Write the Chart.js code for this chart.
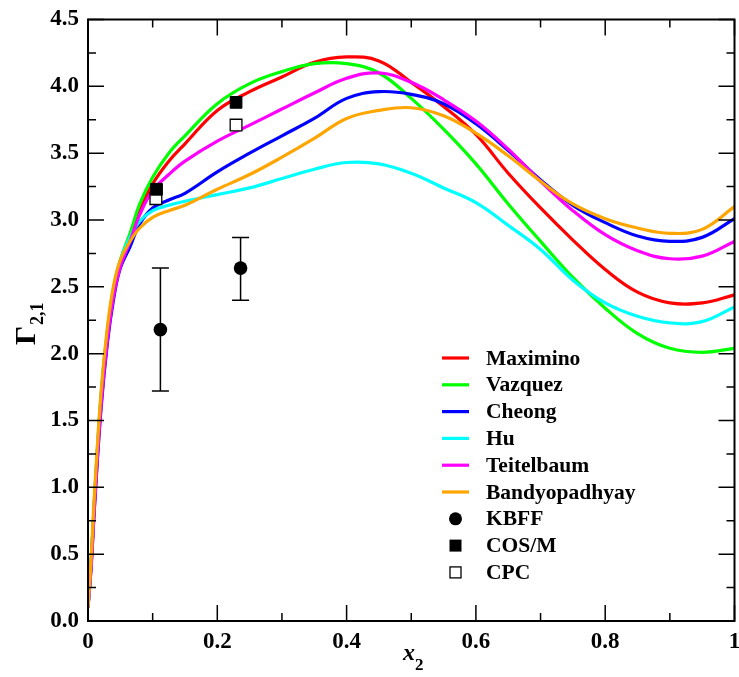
<!DOCTYPE html>
<html>
<head>
<meta charset="utf-8">
<script src="https://cdn.jsdelivr.net/npm/chart.js@4/dist/chart.umd.min.js"></script>
<style>
  html, body { margin: 0; background: #fff; }
</style>
</head>
<body>
<canvas id="chart" width="739" height="677"></canvas>
<script>
// x2 grid the curves were read at
const xValues = [0, 0.005, 0.01, 0.02, 0.03, 0.04, 0.05, 0.065, 0.08, 0.1, 0.125, 0.15, 0.2, 0.25, 0.3,
  0.35, 0.4, 0.45, 0.5, 0.55, 0.6, 0.65, 0.7, 0.75, 0.8, 0.85, 0.9, 0.95, 1.0];

const maximino = [0.1, 0.45, 0.9, 1.65, 2.15, 2.48, 2.68, 2.88, 3.07, 3.27, 3.44, 3.57, 3.82, 3.96, 4.07,
  4.18, 4.22, 4.19, 4.03, 3.85, 3.64, 3.35, 3.09, 2.85, 2.63, 2.46, 2.38, 2.38, 2.44];
const vazquez = [0.1, 0.45, 0.9, 1.67, 2.17, 2.5, 2.7, 2.9, 3.12, 3.32, 3.5, 3.63, 3.87, 4.02, 4.11,
  4.17, 4.17, 4.1, 3.91, 3.68, 3.42, 3.12, 2.84, 2.57, 2.34, 2.15, 2.04, 2.01, 2.04];
const cheong = [0.1, 0.42, 0.85, 1.58, 2.08, 2.42, 2.64, 2.8, 2.97, 3.09, 3.15, 3.2, 3.36, 3.5, 3.63,
  3.76, 3.91, 3.96, 3.94, 3.87, 3.72, 3.52, 3.3, 3.11, 2.98, 2.88, 2.84, 2.87, 3.01];
const hu = [0.1, 0.47, 0.92, 1.68, 2.17, 2.5, 2.7, 2.87, 2.99, 3.07, 3.11, 3.14, 3.19, 3.24, 3.31,
  3.38, 3.43, 3.42, 3.35, 3.24, 3.13, 2.96, 2.78, 2.55, 2.38, 2.28, 2.23, 2.24, 2.35];
const teitelbaum = [0.1, 0.42, 0.86, 1.6, 2.1, 2.44, 2.65, 2.84, 3.04, 3.22, 3.34, 3.44, 3.59, 3.71, 3.83,
  3.95, 4.06, 4.1, 4.03, 3.9, 3.74, 3.53, 3.29, 3.07, 2.89, 2.77, 2.71, 2.73, 2.84];
const bandyopadhyay = [0.1, 0.48, 0.95, 1.7, 2.2, 2.52, 2.7, 2.84, 2.94, 3.02, 3.07, 3.11, 3.23, 3.34, 3.47,
  3.61, 3.76, 3.82, 3.84, 3.78, 3.65, 3.48, 3.29, 3.12, 3.01, 2.94, 2.9, 2.93, 3.1];

// simulation points
const kbffX = [0.112, 0.236];
const kbffY = [2.18, 2.64];
const kbffLow = [1.72, 2.4];
const kbffHigh = [2.64, 2.87];
const cosmX = [0.106, 0.229];
const cosmY = [3.23, 3.88];
const cpcX = [0.105, 0.229];
const cpcY = [3.16, 3.71];

const xTickValues = [0, 0.2, 0.4, 0.6, 0.8, 1];
const xTickLabels = ["0", "0.2", "0.4", "0.6", "0.8", "1"];
const yTickValues = [0, 0.5, 1, 1.5, 2, 2.5, 3, 3.5, 4, 4.5];
const yTickLabels = ["0.0", "0.5", "1.0", "1.5", "2.0", "2.5", "3.0", "3.5", "4.0", "4.5"];

const curveNames = ["Maximino", "Vazquez", "Cheong", "Hu", "Teitelbaum", "Bandyopadhyay"];
const curveColors = ["#ff0000", "#00ff00", "#0000ff", "#00ffff", "#ff00ff", "#ffa500"];
const curves = [maximino, vazquez, cheong, hu, teitelbaum, bandyopadhyay];

const FONT = "'Liberation Serif', 'DejaVu Serif', serif";

const toPoints = (xs, ys) => xs.map((x, i) => ({ x: x, y: ys[i] }));

const datasets = curves.map((ys, i) => ({
  label: curveNames[i],
  data: toPoints(xValues, ys),
  showLine: true,
  borderColor: curveColors[i],
  backgroundColor: curveColors[i],
  borderWidth: 3.2,
  pointRadius: 0,
  tension: 0.4,
  order: 20 - i
}));

datasets.push({
  label: "KBFF",
  data: toPoints(kbffX, kbffY),
  pointStyle: "circle",
  pointRadius: 6.8,
  backgroundColor: "#000",
  borderColor: "#000",
  borderWidth: 0,
  order: 3
});
datasets.push({
  label: "COS/M",
  data: toPoints(cosmX, cosmY),
  pointStyle: "rect",
  pointRadius: 8.3,
  backgroundColor: "#000",
  borderColor: "#000",
  borderWidth: 1,
  order: 1
});
datasets.push({
  label: "CPC",
  data: toPoints(cpcX, cpcY),
  pointStyle: "rect",
  pointRadius: 8.3,
  backgroundColor: "#fff",
  borderColor: "#000",
  borderWidth: 1.3,
  order: 2
});

// error bars, frame, inner ticks, axis titles, legend
const decorations = {
  id: "decorations",
  beforeDatasetsDraw(chart) {
    const ctx = chart.ctx;
    const xs = chart.scales.x, ys = chart.scales.y;
    ctx.save();
    ctx.strokeStyle = "#000";
    ctx.lineWidth = 1.5;
    kbffX.forEach((xv, i) => {
      const px = xs.getPixelForValue(xv);
      const top = ys.getPixelForValue(kbffHigh[i]);
      const bot = ys.getPixelForValue(kbffLow[i]);
      ctx.beginPath();
      ctx.moveTo(px, top); ctx.lineTo(px, bot);
      ctx.moveTo(px - 8.5, top); ctx.lineTo(px + 8.5, top);
      ctx.moveTo(px - 8.5, bot); ctx.lineTo(px + 8.5, bot);
      ctx.stroke();
    });
    ctx.restore();
  },
  afterDraw(chart) {
    const ctx = chart.ctx;
    const a = chart.chartArea;
    const xs = chart.scales.x, ys = chart.scales.y;
    ctx.save();
    ctx.strokeStyle = "#000";
    ctx.lineWidth = 2;
    ctx.strokeRect(a.left, a.top, a.right - a.left, a.bottom - a.top);

    ctx.lineWidth = 1.5;
    ctx.beginPath();
    for (let k = 0; k <= 10; k++) {
      const v = k / 10;
      const len = k % 2 === 0 ? 16 : 8;
      const px = xs.getPixelForValue(v);
      ctx.moveTo(px, a.bottom); ctx.lineTo(px, a.bottom - len);
      ctx.moveTo(px, a.top); ctx.lineTo(px, a.top + len);
    }
    for (let k = 0; k <= 18; k++) {
      const v = k * 0.25;
      const len = k % 2 === 0 ? 16 : 8;
      const py = ys.getPixelForValue(v);
      ctx.moveTo(a.left, py); ctx.lineTo(a.left + len, py);
      ctx.moveTo(a.right, py); ctx.lineTo(a.right - len, py);
    }
    ctx.stroke();

    // x axis title
    ctx.fillStyle = "#000";
    ctx.textBaseline = "alphabetic";
    ctx.textAlign = "left";
    ctx.font = "italic bold 24px " + FONT;
    ctx.fillText("x", 403, 660);
    ctx.font = "bold 17px " + FONT;
    ctx.fillText("2", 415, 670);

    // y axis title, rotated
    ctx.save();
    ctx.translate(35, 345);
    ctx.rotate(-Math.PI / 2);
    ctx.font = "bold 30px " + FONT;
    ctx.fillText("\u0393", 0, 0);
    const gw = ctx.measureText("\u0393").width;
    ctx.font = "bold 18px " + FONT;
    ctx.fillText("2,1", gw + 1, 8);
    ctx.restore();

    // legend
    const lx0 = 442, lx1 = 469, tx = 486, y0 = 358, step = 26.8;
    ctx.font = "bold 21.5px " + FONT;
    ctx.textBaseline = "middle";
    const names = curveNames.concat(["KBFF", "COS/M", "CPC"]);
    names.forEach((name, i) => {
      const y = y0 + i * step;
      if (i < curveNames.length) {
        ctx.strokeStyle = curveColors[i];
        ctx.lineWidth = 3.2;
        ctx.beginPath();
        ctx.moveTo(lx0, y); ctx.lineTo(lx1, y);
        ctx.stroke();
      } else if (name === "KBFF") {
        ctx.fillStyle = "#000";
        ctx.beginPath();
        ctx.arc(455.5, y, 6.5, 0, Math.PI * 2);
        ctx.fill();
      } else if (name === "COS/M") {
        ctx.fillStyle = "#000";
        ctx.fillRect(449.5, y - 6, 12, 12);
      } else {
        ctx.fillStyle = "#fff";
        ctx.strokeStyle = "#000";
        ctx.lineWidth = 1.3;
        ctx.fillRect(450, y - 5.5, 11, 11);
        ctx.strokeRect(450, y - 5.5, 11, 11);
      }
      ctx.fillStyle = "#000";
      ctx.fillText(name, tx, y + 1);
    });
    ctx.restore();
  }
};

new Chart(document.getElementById("chart"), {
  type: "scatter",
  data: { datasets: datasets },
  options: {
    responsive: false,
    animation: false,
    devicePixelRatio: 1,
    layout: { autoPadding: false, padding: { top: 19.5, right: 4.5, left: 0, bottom: 0 } },
    plugins: { legend: { display: false }, tooltip: { enabled: false } },
    scales: {
      x: {
        type: "linear",
        min: 0,
        max: 1,
        afterBuildTicks: s => { s.ticks = xTickValues.map(v => ({ value: v })); },
        afterFit: s => { s.height = 56; s.paddingLeft = 0; s.paddingRight = 0; },
        ticks: {
          callback: (v, i) => xTickLabels[i],
          color: "#000",
          padding: 7,
          maxRotation: 0,
          font: { family: FONT, size: 23, weight: "bold" }
        },
        grid: { display: false, drawTicks: false },
        border: { display: false }
      },
      y: {
        type: "linear",
        min: 0,
        max: 4.5,
        afterBuildTicks: s => { s.ticks = yTickValues.map(v => ({ value: v })); },
        afterFit: s => { s.width = 88; s.paddingTop = 0; s.paddingBottom = 0; },
        ticks: {
          callback: (v, i) => yTickLabels[i],
          color: "#000",
          padding: 9,
          font: { family: FONT, size: 23, weight: "bold" }
        },
        grid: { display: false, drawTicks: false },
        border: { display: false }
      }
    }
  },
  plugins: [decorations]
});
</script>
</body>
</html>
